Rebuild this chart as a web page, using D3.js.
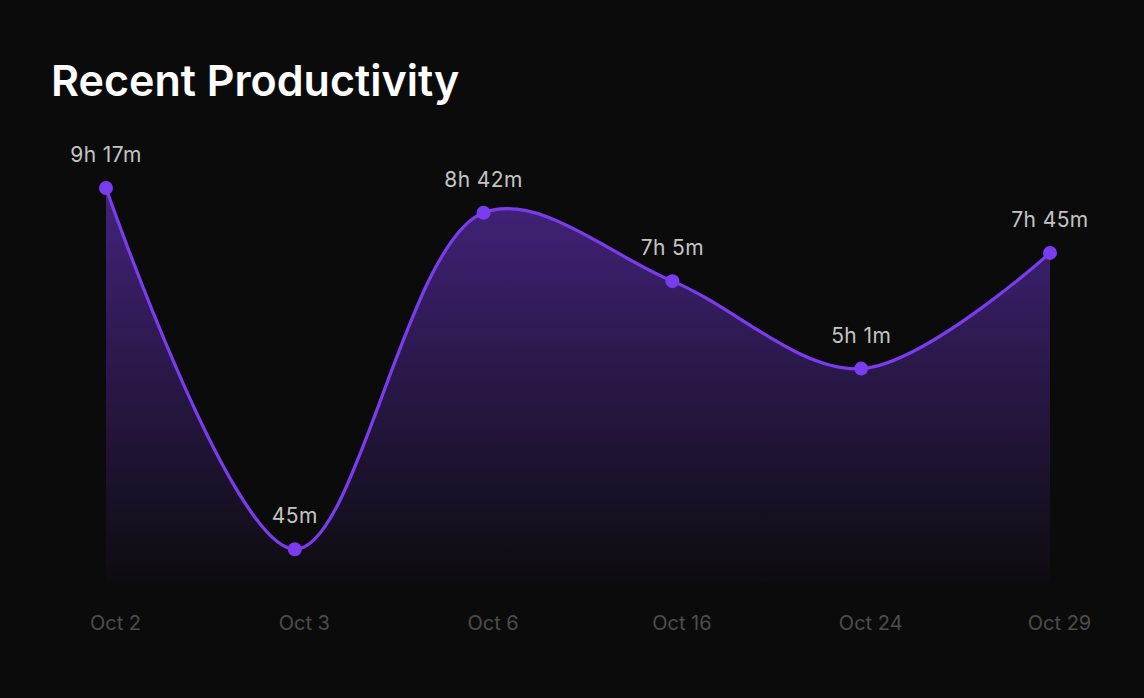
<!DOCTYPE html>
<html><head><meta charset="utf-8">
<script src="https://cdn.jsdelivr.net/npm/d3@7"></script>
<style>html,body{margin:0;padding:0;background:#0b0b0b;}svg{display:block;}</style>
</head><body>
<svg id="chart" width="1144" height="698"></svg>
<script>
const categories = ["Oct 2","Oct 3","Oct 6","Oct 16","Oct 24","Oct 29"];
const minutes = [557, 45, 522, 425, 301, 465];
const valueLabels = ["9h 17m","45m","8h 42m","7h 5m","5h 1m","7h 45m"];

const svg = d3.select("#chart");
svg.append("rect").attr("width",1144).attr("height",698).attr("fill","#0b0b0b");

const x = d3.scalePoint().domain(categories).range([106,1050]);
const y = d3.scaleLinear().domain([0, d3.max(minutes)]).range([581,188]);
const data = categories.map((c,i)=>({c, v:minutes[i], l:valueLabels[i]}));

const defs = svg.append("defs");
const g = defs.append("linearGradient").attr("id","fillGrad")
  .attr("gradientUnits","userSpaceOnUse").attr("x1",0).attr("y1",y(d3.max(minutes))).attr("x2",0).attr("y2",y(0));
g.append("stop").attr("offset","0%").attr("stop-color","#7c3aed").attr("stop-opacity",0.5);
g.append("stop").attr("offset","100%").attr("stop-color","#7c3aed").attr("stop-opacity",0.02);

const curve = d3.curveCatmullRom.alpha(0.5);
const area = d3.area().x(d=>x(d.c)).y0(y(0)).y1(d=>y(d.v)).curve(curve);
const line = d3.line().x(d=>x(d.c)).y(d=>y(d.v)).curve(curve);

svg.append("path").datum(data).attr("d",area).attr("fill","url(#fillGrad)");
svg.append("path").datum(data).attr("d",line).attr("fill","none").attr("stroke","#7b3cf0").attr("stroke-width",3.2);

svg.selectAll("circle.pt").data(data).join("circle").attr("class","pt")
  .attr("cx",d=>x(d.c)).attr("cy",d=>y(d.v)).attr("r",7).attr("fill","#7b3cf0");

svg.selectAll("text.vl").data(data).join("text").attr("class","vl")
  .attr("x",d=>x(d.c)).attr("y",d=>y(d.v)-26).attr("text-anchor","middle")
  .attr("font-family","Inter, 'Open Sans', sans-serif").attr("font-size",21).attr("letter-spacing",0.4).attr("fill","#c4c4c4")
  .text(d=>d.l);

const xAxis = d3.axisBottom(x).tickSize(0).tickPadding(0);
const ax = svg.append("g").attr("transform","translate(9,616)").call(xAxis);
ax.select(".domain").remove();
ax.selectAll("text").attr("font-family","Inter, 'Open Sans', sans-serif").attr("font-size",20).attr("fill","#4d4d4d");

svg.append("text").attr("x",51).attr("y",96).attr("font-family","Inter, sans-serif").attr("font-weight",600)
  .attr("font-size",43).attr("fill","#ffffff").text("Recent Productivity");
</script>
</body></html>
